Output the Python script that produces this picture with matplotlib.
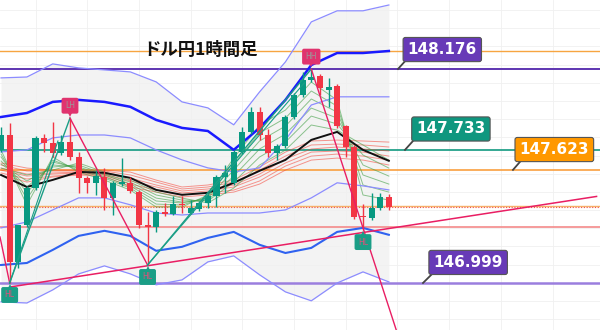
import matplotlib
matplotlib.use("Agg")
import matplotlib.pyplot as plt

# USD/JPY 1h candles
opens = [147.731, 147.813, 147.114, 147.318, 147.521, 147.796, 147.769, 147.714, 147.774, 147.692,
         147.576, 147.549, 147.582, 147.466, 147.543, 147.549, 147.499, 147.318, 147.307, 147.389,
         147.378, 147.433, 147.384, 147.406, 147.439, 147.477, 147.582, 147.549, 147.719, 147.829,
         147.939, 147.813, 147.714, 147.752, 147.912, 148.033, 148.115, 148.137, 148.060, 148.082,
         147.862, 147.747, 147.367, 147.356, 147.411, 147.472]
highs = [147.857, 147.879, 147.318, 147.532, 147.807, 147.818, 147.884, 147.813, 147.906, 147.720,
         147.587, 147.620, 147.631, 147.560, 147.686, 147.582, 147.510, 147.389, 147.400, 147.439,
         147.477, 147.477, 147.455, 147.450, 147.488, 147.593, 147.648, 147.731, 147.857, 147.967,
         147.967, 147.846, 147.764, 147.923, 148.044, 148.159, 148.176, 148.148, 148.126, 148.093,
         147.868, 147.758, 147.433, 147.494, 147.494, 147.488]
lows = [147.719, 146.999, 147.081, 147.307, 147.510, 147.719, 147.692, 147.703, 147.675, 147.494,
        147.494, 147.483, 147.400, 147.373, 147.532, 147.494, 147.301, 147.098, 147.279, 147.367,
        147.373, 147.384, 147.378, 147.395, 147.411, 147.417, 147.494, 147.538, 147.708, 147.818,
        147.786, 147.692, 147.675, 147.741, 147.901, 148.022, 148.104, 148.033, 147.967, 147.851,
        147.692, 147.351, 147.290, 147.345, 147.400, 147.400]
closes = [147.813, 147.114, 147.318, 147.521, 147.796, 147.769, 147.714, 147.774, 147.692, 147.576,
          147.549, 147.587, 147.466, 147.549, 147.554, 147.505, 147.318, 147.307, 147.389, 147.378,
          147.433, 147.428, 147.411, 147.439, 147.477, 147.582, 147.604, 147.719, 147.829, 147.939,
          147.813, 147.714, 147.752, 147.912, 148.033, 148.115, 148.132, 148.071, 148.077, 147.862,
          147.747, 147.362, 147.362, 147.411, 147.472, 147.417]

# indicator values read every 3rd candle
band_x = [0, 3, 6, 9, 12, 15, 18, 21, 24, 27, 30, 33, 36, 39, 42, 45]
bb_up3 = [148.127, 148.132, 148.204, 148.182, 148.171, 148.160, 148.105, 147.995, 147.962, 147.869,
          148.050, 148.215, 148.435, 148.496, 148.496, 148.528]
bb_up2 = [147.912, 147.934, 147.995, 148.006, 147.995, 147.968, 147.896, 147.852, 147.835, 147.731,
          147.852, 148.006, 148.198, 148.264, 148.264, 148.275]
bb_up1 = [147.720, 147.731, 147.797, 147.813, 147.813, 147.797, 147.731, 147.676, 147.632, 147.610,
          147.632, 147.786, 147.978, 148.023, 148.023, 148.023]
bb_mid = [147.593, 147.527, 147.566, 147.610, 147.605, 147.577, 147.511, 147.484, 147.495, 147.550,
          147.616, 147.676, 147.786, 147.830, 147.731, 147.671]
bb_lo1 = [147.302, 147.335, 147.401, 147.467, 147.467, 147.429, 147.384, 147.373, 147.384, 147.384,
          147.384, 147.401, 147.467, 147.550, 147.533, 147.511]
bb_lo2 = [147.098, 147.109, 147.181, 147.258, 147.286, 147.258, 147.176, 147.198, 147.247, 147.280,
          147.209, 147.164, 147.192, 147.280, 147.302, 147.264]
bb_lo3 = [146.895, 146.889, 146.961, 147.049, 147.093, 147.049, 146.989, 147.016, 147.115, 147.148,
          147.044, 146.950, 146.901, 146.999, 147.060, 147.005]

# GMMA long (red) and short (green) ribbons
red_1 = [147.659, 147.631, 147.620, 147.620, 147.620, 147.609, 147.565, 147.527, 147.538, 147.565, 147.637, 147.719, 147.780, 147.785, 147.780, 147.774]
red_2 = [147.648, 147.615, 147.615, 147.615, 147.615, 147.593, 147.554, 147.516, 147.527, 147.554, 147.620, 147.697, 147.758, 147.763, 147.758, 147.747]
red_3 = [147.631, 147.598, 147.604, 147.609, 147.609, 147.576, 147.538, 147.505, 147.516, 147.538, 147.598, 147.681, 147.736, 147.747, 147.736, 147.725]
red_4 = [147.620, 147.587, 147.598, 147.604, 147.598, 147.560, 147.527, 147.494, 147.505, 147.527, 147.582, 147.659, 147.719, 147.725, 147.719, 147.697]
red_5 = [147.604, 147.571, 147.587, 147.598, 147.593, 147.543, 147.510, 147.483, 147.494, 147.510, 147.560, 147.642, 147.697, 147.708, 147.697, 147.675]
red_6 = [147.593, 147.554, 147.582, 147.593, 147.587, 147.527, 147.499, 147.472, 147.483, 147.499, 147.543, 147.620, 147.675, 147.686, 147.675, 147.648]
green_1 = [147.730, 147.428, 147.692, 147.609, 147.565, 147.510, 147.417, 147.417, 147.483, 147.686, 147.868, 147.950, 148.104, 148.005, 147.483, 147.455]
green_2 = [147.708, 147.461, 147.675, 147.620, 147.576, 147.521, 147.433, 147.428, 147.472, 147.653, 147.824, 147.906, 148.055, 147.972, 147.538, 147.499]
green_3 = [147.692, 147.494, 147.664, 147.631, 147.582, 147.532, 147.450, 147.439, 147.466, 147.620, 147.780, 147.862, 148.011, 147.939, 147.593, 147.543]
green_4 = [147.670, 147.527, 147.648, 147.637, 147.593, 147.543, 147.466, 147.444, 147.455, 147.587, 147.736, 147.818, 147.961, 147.906, 147.648, 147.587]
green_5 = [147.653, 147.560, 147.637, 147.648, 147.598, 147.554, 147.483, 147.455, 147.450, 147.554, 147.692, 147.774, 147.917, 147.873, 147.703, 147.631]
green_6 = [147.631, 147.593, 147.620, 147.659, 147.609, 147.565, 147.499, 147.466, 147.439, 147.521, 147.648, 147.730, 147.868, 147.840, 147.758, 147.675]

# horizontal levels
levels = [148.275, 148.176, 147.733, 147.623, 147.424, 147.307, 146.999]
level_colors = ["#f7a541", "#5e35b1", "#129a80", "#f9a03f", "#f7b26a", "#f48a8a", "#9b7ede"]
level_widths = [1.0, 1.4, 1.2, 1.2, 1.0, 1.2, 1.8]
dotted_level = 147.417

# zigzag swing points (candle index, price) and labels
swing_x = [1, 8, 17, 36, 42]
swing_p = [146.999, 147.906, 147.098, 148.176, 147.290]
swing_lbl = ["HL", "LH", "HL", "HH", "HL"]

# trend line end points
trend_x = [1.04, 69.1]
trend_p = [146.977, 147.475]

# price tags
tag_values = ["148.176", "147.733", "147.623", "146.999"]
tag_colors = ["#673ab7", "#0f977f", "#ff9800", "#673ab7"]

title = "ドル円1時間足"

GREEN = "#089981"
RED = "#f23645"

fig = plt.figure(figsize=(6, 3.3), dpi=100)
ax = fig.add_axes([0, 0, 1, 1])
ax.set_xlim(-0.12, 69.5)
ax.set_ylim(146.7404, 148.5555)
ax.axis("off")

# grid
for gx in range(4, 70, 6):
    ax.axvline(gx, color="#f0f0f0", lw=0.6, zorder=1)
for k in range(19):
    ax.axhline(146.8 + 0.1 * k, color="#f0f0f0", lw=0.6, zorder=1)

# band fill
ax.fill_between(band_x, bb_lo3, bb_up3, color="#f3f3f3", lw=0, zorder=0.5)

# horizontal lines
for lv, c, w in zip(levels, level_colors, level_widths):
    ax.axhline(lv, color=c, lw=w, zorder=2)
ax.axhline(dotted_level, color="#ef5350", lw=0.8, ls=(0, (1, 1.5)), zorder=2)

# ribbons
for r in [red_1, red_2, red_3, red_4, red_5, red_6]:
    ax.plot(band_x, r, color="#f44336", lw=0.7, alpha=0.55, zorder=3)
for g in [green_1, green_2, green_3, green_4, green_5, green_6]:
    ax.plot(band_x, g, color="#43a047", lw=0.7, alpha=0.6, zorder=3)

# bollinger bands
ax.plot(band_x, bb_up3, color="#8c8cff", lw=0.9, zorder=3)
ax.plot(band_x, bb_lo3, color="#8c8cff", lw=0.9, zorder=3)
ax.plot(band_x, bb_up1, color="#8c8cff", lw=0.9, zorder=3)
ax.plot(band_x, bb_lo1, color="#8c8cff", lw=0.9, zorder=3)
ax.plot(band_x, bb_up2, color="#1a1aff", lw=1.8, zorder=3)
ax.plot(band_x, bb_lo2, color="#2f62f0", lw=1.5, zorder=3)
ax.plot(band_x, bb_mid, color="#111111", lw=1.4, zorder=3)

# candles
for i in range(len(opens)):
    c = GREEN if closes[i] >= opens[i] else RED
    ax.vlines(i, lows[i], highs[i], color=c, lw=1.0, zorder=4)
    h = max(abs(closes[i] - opens[i]), 0.004)
    ax.bar(i, h, bottom=min(opens[i], closes[i]), width=0.7, color=c, lw=0, zorder=4)

# trend line
ax.plot(trend_x, trend_p, color="#e91e63", lw=1.1, zorder=5)

# zigzag
ax.plot([-0.12, swing_x[0]], [147.252, swing_p[0]], color="#e91e63", lw=1.0, zorder=5)
ax.plot(swing_x[:2], swing_p[:2], color="#1a9e86", lw=1.0, zorder=5)
ax.plot([swing_x[0], 6.6], [swing_p[0], 147.78], color="#1a9e86", lw=0.8, zorder=5)
ax.plot(swing_x[1:3], swing_p[1:3], color="#e91e63", lw=1.0, zorder=5)
ax.plot(swing_x[2:4], swing_p[2:4], color="#1a9e86", lw=1.0, zorder=5)
ax.plot([swing_x[2], 35.2], [swing_p[2], 148.10], color="#1a9e86", lw=0.8, zorder=5)
ax.plot([swing_x[3], 46.5], [swing_p[3], 146.647], color="#e91e63", lw=1.0, zorder=5)

# swing markers
for sx, sp, lb in zip(swing_x, swing_p, swing_lbl):
    if lb in ("LH", "HH"):
        yb = sp + 0.068
        ax.plot(sx, sp + 0.025, marker="v", ms=5, color="#e0336e", mew=0, zorder=6)
        ax.text(sx, yb, lb, ha="center", va="center", fontsize=5.5, color="#9a9a9a", zorder=7,
                bbox=dict(boxstyle="round,pad=0.45,rounding_size=0.25", fc="#e0336e", ec="none"))
    else:
        yb = sp - 0.066
        ax.plot(sx, sp - 0.022, marker="^", ms=5, color="#1a9e86", mew=0, zorder=6)
        ax.text(sx, yb, lb, ha="center", va="center", fontsize=5.5, color="#e0507a", zorder=7,
                bbox=dict(boxstyle="round,pad=0.45,rounding_size=0.25", fc="#1a9e86", ec="none"))

# price tags
tag_cx = [51.2, 52.2, 64.2, 54.2]
tag_cy = [148.283, 147.846, 147.733, 147.112]
tip_from = [(46.06, 148.176), (46.87, 147.731), (59.4, 147.621), (48.96, 146.999)]
tip_to = [(46.9, 148.220), (47.8, 147.780), (60.3, 147.670), (49.9, 147.043)]
for t, c, cx, cy, a, b in zip(tag_values, tag_colors, tag_cx, tag_cy, tip_from, tip_to):
    ax.plot([a[0], b[0]], [a[1], b[1]], color="#444444", lw=1.3, zorder=7)
    ax.text(cx, cy, t, ha="center", va="center", fontsize=11, fontweight="bold", color="white",
            family="DejaVu Sans", zorder=8,
            bbox=dict(boxstyle="round,pad=0.3,rounding_size=0.15", fc=c, ec="#555555", lw=0.8))

ax.text(23.2, 148.281, title, ha="center", va="center", fontsize=12.5, fontweight="bold",
        color="#111111", family=["Noto Sans CJK JP", "DejaVu Sans"], zorder=8)

fig.savefig("out.png", dpi=100)
